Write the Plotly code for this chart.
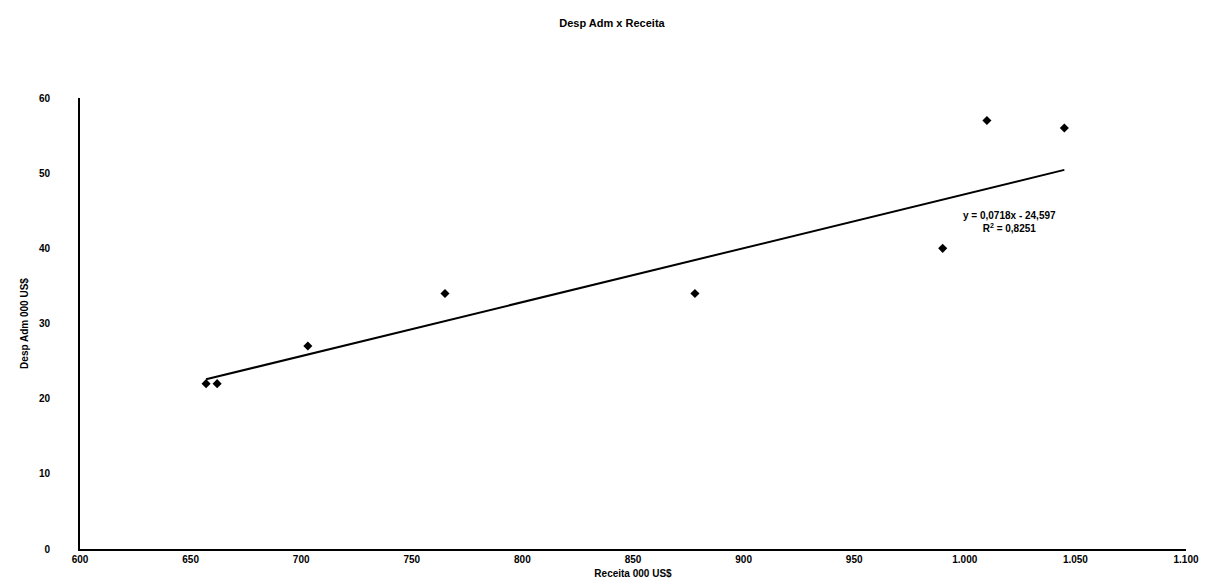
import plotly.graph_objects as go

receita = [657, 662, 703, 765, 878, 990, 1010, 1045]
desp_adm = [22, 22, 27, 34, 34, 40, 57, 56]
slope = 0.0718
intercept = -24.597
eq_text = "<b>y = 0,0718x - 24,597<br>R<sup>2</sup> = 0,8251</b>"
x_ticks = [600, 650, 700, 750, 800, 850, 900, 950, 1000, 1050, 1100]
y_ticks = [0, 10, 20, 30, 40, 50, 60]

FONT = "Liberation Sans, Arial, sans-serif"

x_line = [min(receita), max(receita)]
y_line = [slope * v + intercept for v in x_line]

fig = go.Figure()
fig.add_trace(go.Scatter(x=x_line, y=y_line, mode="lines",
                         line=dict(color="black", width=2), hoverinfo="skip",
                         showlegend=False))
fig.add_trace(go.Scatter(x=receita, y=desp_adm, mode="markers",
                         marker=dict(symbol="diamond", size=7, color="black"),
                         showlegend=False))

fig.add_annotation(x=1020, y=43.5, text=eq_text, showarrow=False,
                   font=dict(family=FONT, size=10, color="black"), align="center")

fig.update_layout(
    width=1208, height=588,
    paper_bgcolor="white", plot_bgcolor="white",
    margin=dict(l=72, r=30, t=90, b=47),
    separators=",.",
    title=dict(text="<b>Desp Adm x Receita</b>", x=0.5, xanchor="center",
               y=0.975, yanchor="middle",
               font=dict(family=FONT, size=11, color="black")),
    xaxis=dict(range=[600, 1100], tickvals=x_ticks, separatethousands=True,
               showline=True, linecolor="black", linewidth=2,
               showgrid=False, zeroline=False, ticks="",
               tickfont=dict(family=FONT, size=10, color="black", weight="bold"),
               title=dict(text="<b>Receita 000 US$</b>", standoff=6,
                          font=dict(family=FONT, size=10, color="black"))),
    yaxis=dict(range=[0, 60], tickvals=y_ticks,
               showline=True, linecolor="black", linewidth=2,
               showgrid=False, zeroline=False, ticks="",
               ticklabelstandoff=26,
               tickfont=dict(family=FONT, size=10, color="black", weight="bold"),
               title=dict(text="<b>Desp Adm 000 US$</b>", standoff=8,
                          font=dict(family=FONT, size=10, color="black"))),
)

fig.write_html("out.html")
